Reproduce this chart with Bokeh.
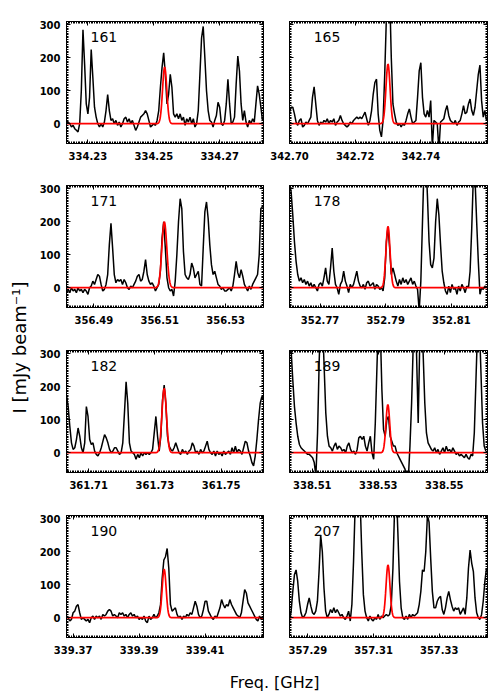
import numpy as np
from bokeh.plotting import figure
from bokeh.layouts import row, column
from bokeh.models import Range1d, FixedTicker, LinearAxis, Label, PrintfTickFormatter
from bokeh.embed import file_html
from bokeh.resources import INLINE

# ---------------- data ----------------
panel_ids = ["161", "165", "171", "178", "182", "189", "190", "207"]
x_lo = [334.2235, 342.7000, 356.4817, 352.7607, 361.7033, 338.5031, 339.3680, 357.2844]
x_hi = [334.2833, 342.7603, 356.5415, 352.8210, 361.7628, 338.5631, 339.4277, 357.3447]
x_ticks = [[334.23, 334.25, 334.27], [342.70, 342.72, 342.74], [356.49, 356.51, 356.53],
           [352.77, 352.79, 352.81], [361.71, 361.73, 361.75], [338.51, 338.53, 338.55],
           [339.37, 339.39, 339.41], [357.29, 357.31, 357.33]]
y_ticks = [0, 100, 200, 300]
y_lo, y_hi = -60, 310

chan_width = 0.0005
spec_start = [334.2235, 342.7000, 356.4817, 352.7607, 361.7033, 338.5031, 339.3680, 357.2844]

spec_161 = [10, 5, 0, -10, -5, -15, -20, -25, 0, 100, 285, 180, 60, 30, 80, 225, 140, 50, 20, 0,
            -10, 0, -10, 5, 40, 88, 40, 10, 15, 0, 10, -5, 5, -10, 0, 15, 20, 5, 15, 0,
            10, -5, -20, -10, 5, 20, 25, 30, 40, 30, 10, -10, -5, 0, -5, 10, 40, 110, 170, 215,
            150, 60, 90, 150, 110, 30, 20, 30, 15, 30, 10, 20, -5, 15, 5, 20, 0, 15, -10, 0,
            40, 150, 260, 295, 200, 100, 40, 10, 5, -10, 10, 25, 65, 50, 0, -5, 10, 60, 135, 60,
            0, 5, 20, 120, 205, 160, 60, 10, 40, 5, -10, 10, 0, 15, 5, 60, 115, 90, 50, 10]
spec_165 = [35, 50, 50, 30, 5, -5, 10, 15, -10, -5, 5, 0, 10, 20, 80, 112, 60, 10, -5, 5,
            0, 10, 5, 15, 0, 10, 5, 15, -5, 5, 10, 25, 10, 0, -5, -10, -5, 5, 0, 10,
            15, 20, 15, 20, 15, 25, 35, 15, -5, 10, 40, 90, 125, 135, 30, -20, -40, 10, 150, 320,
            420, 400, 200, 60, 30, 5, -5, 0, -10, 0, -5, 10, 30, 45, 20, 0, 5, 10, 80, 160,
            185, 80, 30, 20, 40, 20, 70, -70, 10, 5, 0, -80, 5, 10, 15, 40, 55, 25, 10, 5,
            0, 10, -5, 5, 10, 30, 55, 30, 35, 60, 75, 40, 25, 50, 100, 150, 178, 70, 20, 40, 10]
spec_171 = [-10, -5, -15, 0, -10, -5, -15, 0, -10, -5, -15, -5, -10, -20, 0, 5, 20, 10, 25, 40,
            35, 10, -10, -5, 10, 40, 130, 195, 120, 40, 15, 25, 20, 25, 10, 25, 15, 0, -5, 5,
            0, 10, 20, 35, 40, 20, 25, 50, 85, 40, 20, 10, 15, 5, -10, 0, 10, 50, 150, 200,
            120, 30, 0, -10, -5, -25, 20, 100, 200, 270, 240, 110, 40, 30, 25, 40, 75, 60, 30, 40,
            50, 10, 5, 120, 230, 260, 210, 130, 70, 40, 50, 30, 10, 5, -5, 0, -10, -10, -5, 0,
            -10, 5, 40, 80, 45, 30, 55, 35, 10, 0, -10, 5, -5, 10, 20, 30, 40, 100, 240, 245]
spec_178 = [320, 290, 220, 140, 80, 40, 20, 30, 15, 25, 10, 20, 5, 15, 0, 10, 0, -10, 10, 15,
            5, 30, 60, 20, 10, 60, 120, 50, 10, 0, -20, 10, 20, 50, 20, 5, -15, 10, 0, 10,
            30, 50, 20, 5, 0, 10, -5, 15, 20, 5, 10, 15, -5, 10, 5, -5, 0, -10, 30, 140,
            185, 120, 40, 60, 40, 20, 5, 25, 10, 30, 15, 25, 10, 20, 30, 10, 20, 5, -5, -70,
            20, 200, 380, 400, 280, 140, 70, 60, 90, 200, 270, 220, 130, 50, 15, -10, -20, 5, -15, 10,
            -5, 0, -20, 5, -10, 10, 0, -15, 5, 0, 50, 180, 340, 330, 200, 80, -20, 0, -5, 5, 0]
spec_182 = [175, 140, 80, 30, 10, 15, 40, 75, 50, 15, 0, 30, 140, 110, 40, 25, 30, 5, -5, -10,
            0, 15, 35, 55, 45, 30, 10, 0, 5, 15, 15, 5, -5, 0, 30, 120, 215, 150, 30, 5,
            0, -5, -20, -5, -15, 0, -10, 0, -5, 0, -5, 0, 10, 60, 110, 50, 5, 50, 160, 205,
            150, 50, 20, 10, 5, 15, 30, 15, 0, -5, 10, 0, 5, -5, 5, 10, 30, 20, 0, 5,
            -5, 10, 0, 5, 20, 35, 10, 0, -5, 5, -10, 5, -5, 0, -10, 5, -5, 0, 5, -5,
            15, 0, 20, 0, 10, 5, -5, 15, 35, 30, 5, -10, -30, -40, -10, 40, 100, 150, 170, 160]
spec_189 = [330, 310, 220, 140, 90, 50, 25, 15, 10, 5, 0, -5, -5, -10, -15, -30, -70, 60, 280, 420,
            400, 260, 120, 50, 20, 15, 5, 20, 30, 10, 20, 15, 5, 10, 0, 20, 30, 10, 0, 5,
            -5, 10, 45, 50, 40, 50, 20, 5, 30, 50, 0, -20, 90, 260, 420, 380, 190, 70, 50, 100,
            110, 50, 35, 20, 20, 0, -10, -20, -30, -40, -50, -70, -80, 20, 150, 330, 420, 300, 90, 350,
            420, 300, 150, 60, 30, 20, 10, 5, 15, 0, 10, -5, 5, 15, 0, 20, 5, 10, 0, 15,
            5, -5, 0, -10, -5, -10, -15, -5, -15, -20, -5, -10, 60, 220, 380, 400, 250, 90, 20, 5]
spec_190 = [5, 0, -10, -5, 15, 20, 35, 40, 15, -5, 0, -5, -10, -5, -15, 0, 5, -5, 5, 0,
            5, -5, 10, 5, 10, 20, 25, 20, 5, 10, 5, 0, 15, 10, 15, 5, 10, 0, 10, 15,
            5, 10, 0, 5, -5, 0, -5, 5, -10, -15, 5, -5, 0, 10, 0, 5, 15, 40, 120, 175,
            185, 210, 150, 40, 20, 25, 30, 10, 0, 5, -5, 5, 0, 10, 5, 15, 10, 30, 50, 35,
            10, 0, 5, 25, 50, 50, 20, 10, 0, -5, 5, 0, 15, 30, 55, 40, 30, 40, 35, 55,
            40, 30, 20, 10, 5, 0, 15, 50, 85, 75, 45, 35, 25, 15, 5, -5, -10, 5, -5, 0]
spec_207 = [-10, 20, 80, 130, 145, 110, 50, 15, 0, 5, 15, 40, 60, 35, 15, 10, 20, 50, 140, 250,
            200, 90, 20, 0, 10, 25, 15, 30, 15, 25, 15, 5, 10, 0, -5, 5, 20, -10, 40, 170,
            340, 420, 430, 360, 200, 70, 20, 0, -10, 5, -5, -10, 0, -5, 10, -5, 5, 0, 5, 10,
            5, 10, 40, 150, 330, 400, 260, 110, 30, 0, -5, 5, -5, 10, 0, 10, 5, 10, 15, 40,
            80, 145, 140, 200, 310, 290, 180, 80, 30, 30, 50, 60, 65, 25, 10, 30, 60, 80, 55, 35,
            20, 30, 25, 30, 10, 20, 30, 10, 60, 150, 205, 165, 140, 60, 15, 0, -5, 10, 50, 110, 150]
spectra = [spec_161, spec_165, spec_171, spec_178, spec_182, spec_189, spec_190, spec_207]

# Gaussian model fits (red): centre [GHz], peak [mJy/beam], sigma [GHz]
line_center = [334.2533, 342.7300, 356.5114, 352.7907, 361.7328, 338.5329, 339.3976, 357.3144]
line_peak = [172, 181, 200, 186, 195, 146, 147, 160]
line_sigma = [0.00064, 0.00062, 0.00075, 0.00062, 0.00068, 0.00058, 0.00060, 0.00060]

# ---------------- drawing ----------------
TICK_FONT = "DejaVu Sans"


def style_axis(ax, show_labels):
    ax.axis_line_color = "black"
    ax.axis_line_width = 1
    ax.major_tick_in = 4
    ax.major_tick_out = 0
    ax.minor_tick_in = 2
    ax.minor_tick_out = 0
    ax.major_tick_line_color = "black"
    ax.minor_tick_line_color = "black"
    ax.major_tick_line_width = 1
    ax.minor_tick_line_width = 1
    if show_labels:
        ax.major_label_text_font = TICK_FONT
        ax.major_label_text_font_style = "bold"
        ax.major_label_text_font_size = "10px"
        ax.major_label_text_color = "black"
    else:
        ax.major_label_text_color = None
        ax.major_label_standoff = 0


def make_panel(i, left_col, first_row):
    lo, hi = x_lo[i], x_hi[i]
    p = figure(frame_width=197 if left_col else 198, frame_height=122,
               x_range=Range1d(lo, hi), y_range=Range1d(y_lo, y_hi),
               toolbar_location=None, output_backend="svg",
               min_border_left=30 if left_col else 21, min_border_right=5,
               min_border_top=21 if first_row else 12,
               min_border_bottom=30 if first_row else 31)
    p.xgrid.visible = False
    p.ygrid.visible = False
    p.outline_line_color = "black"
    p.outline_line_width = 1
    p.background_fill_color = "white"
    p.border_fill_color = "white"

    xminor = list(np.arange(np.ceil(lo / 0.0005) * 0.0005, hi, 0.0005))
    yminor = list(range(y_lo, y_hi + 1, 5))
    xt = FixedTicker(ticks=x_ticks[i], minor_ticks=xminor)
    yt = FixedTicker(ticks=y_ticks, minor_ticks=yminor)

    xa = p.xaxis[0]
    xa.ticker = xt
    xa.formatter = PrintfTickFormatter(format="%.2f")
    style_axis(xa, True)
    xa.major_label_standoff = 8

    ya = p.yaxis[0]
    ya.ticker = yt
    style_axis(ya, left_col)
    if left_col:
        ya.major_label_standoff = 6

    top = LinearAxis(ticker=xt)
    style_axis(top, False)
    p.add_layout(top, "above")
    right = LinearAxis(ticker=yt)
    style_axis(right, False)
    p.add_layout(right, "right")

    spec = np.array(spectra[i], dtype=float)
    freq = spec_start[i] + chan_width * np.arange(len(spec))
    p.line(freq, spec, line_color="black", line_width=1.5)

    fx = np.linspace(lo, hi, 500)
    model = line_peak[i] * np.exp(-0.5 * ((fx - line_center[i]) / line_sigma[i]) ** 2)
    p.line(fx, model, line_color="#ff0000", line_width=1.7)

    p.add_layout(Label(x=lo + 0.122 * (hi - lo), y=262, text=panel_ids[i],
                       text_font="DejaVu Sans", text_font_size="14px",
                       text_color="black", text_baseline="alphabetic", text_align="left"))
    return p


panels = [make_panel(i, i % 2 == 0, i < 2) for i in range(8)]
grid = column(*[row(panels[2 * r], panels[2 * r + 1], spacing=0) for r in range(4)], spacing=0)

yfig = figure(width=36, height=668, x_range=Range1d(0, 36), y_range=Range1d(0, 668),
              toolbar_location=None, output_backend="svg", x_axis_type=None, y_axis_type=None,
              min_border=0)
yfig.outline_line_color = None
yfig.add_layout(Label(x=19, y=321, text="I [mJy beam\u207b\u00b9]", angle=np.pi / 2,
                      text_align="center", text_baseline="middle",
                      text_font="DejaVu Sans", text_font_size="18px", text_color="black"))

xfig = figure(width=492, height=30, x_range=Range1d(0, 492), y_range=Range1d(0, 30),
              toolbar_location=None, output_backend="svg", x_axis_type=None, y_axis_type=None,
              min_border=0)
xfig.outline_line_color = None
xfig.add_layout(Label(x=274, y=16, text="Freq. [GHz]", text_align="center", text_baseline="middle",
                      text_font="DejaVu Sans", text_font_size="16px", text_color="black"))

layout = column(row(yfig, grid, spacing=0), xfig, spacing=0)

open("out.html", "w").write(file_html(layout, INLINE, "spectra"))
